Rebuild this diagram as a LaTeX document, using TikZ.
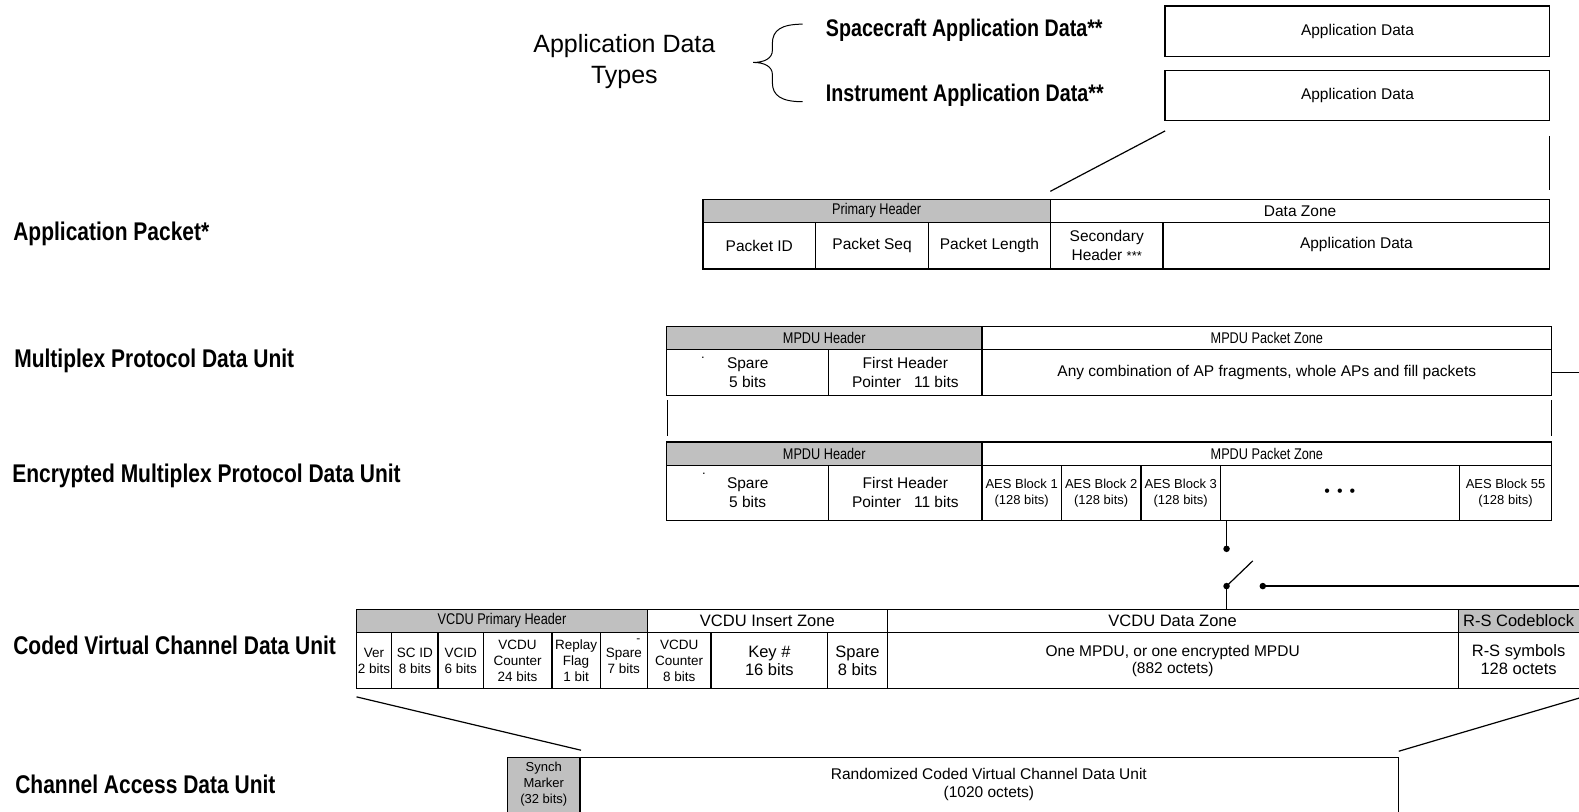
\documentclass[tikz,border=0pt]{standalone}
\usepackage{fontspec}
\setmainfont{Liberation Sans}
\newfontfamily\narrowfont[FakeStretch=0.82]{Liberation Sans}
\definecolor{hdrgray}{RGB}{192,192,192}
\newcommand\fs[2]{\fontsize{#1}{#2}\selectfont}
\newcommand\cell[7]{\node[cellbox,#6,minimum width={(#4-#2)*1.00702pt},minimum height={(#5-#3)*1.00702pt}] (#1) at ({(#2+#4)/2},{(#3+#5)/2}) {#7};}
\tikzset{
  cellbox/.style={draw,line width=1.3pt,inner sep=0pt,align=center,font=\fs{15.5}{19}},
  hdr/.style={fill=hdrgray},
  narrow/.style={font=\narrowfont\fs{15.5}{19}},
  small/.style={font=\fs{13}{16}},
  tinyt/.style={font=\fs{13.5}{16}},
  mid/.style={font=\fs{16.5}{18}},
  biglabel/.style={anchor=west,inner sep=0pt,font=\narrowfont\bfseries\fs{25.6}{30}},
  toplabel/.style={anchor=west,inner sep=0pt,font=\narrowfont\bfseries\fs{24}{28}},
  txt/.style={inner sep=0pt,align=center},
  conn/.style={line width=1.2pt},
  dotnode/.style={circle,fill=black,inner sep=0pt,minimum size=6.5pt}
}
\begin{document}
\begin{tikzpicture}[x=1.00702pt,y=-1.00702pt]
\clip (0,0) rectangle (1568,806.34);
\fill[white] (0,0) rectangle (1568,806.34);

% left labels
\node[biglabel] (lblap) at (13,232) {Application Packet*};
\node[biglabel] (lblmpdu) at (14,358) {Multiplex Protocol Data Unit};
\node[biglabel] (lblempdu) at (12,473) {Encrypted Multiplex Protocol Data Unit};
\node[biglabel] (lblcvcdu) at (13,641) {Coded Virtual Channel Data Unit};
\node[biglabel] (lblcadu) at (15,779) {Channel Access Data Unit};

% application data types
\node[txt,font=\fs{25}{31}] (adtypes) at (620,61) {Application Data\\Types};
\draw[line width=1pt] (797,24) .. controls (776,24) and (767,30) .. (767,43) -- (767,50)
  .. controls (767,58) and (759,62) .. (748,62)
  .. controls (759,62) and (767,66) .. (767,74) -- (767,82)
  .. controls (767,95) and (776,101) .. (797,101);
\node[toplabel] (sclbl) at (820,30) {Spacecraft Application Data**};
\node[toplabel] (inlbl) at (820,95) {Instrument Application Data**};
\cell{ad1}{1157}{6}{1539}{56}{}{Application Data}
\cell{ad2}{1157}{70}{1539}{120}{}{Application Data}

\coordinate (ex1a) at (1157,130);
\coordinate (ex1b) at (1043,190);
\coordinate (ex2a) at (1539,135);
\coordinate (ex2b) at (1539,189);
\draw[conn] (ex1a) -- (ex1b);
\draw[conn] (ex2a) -- (ex2b);

% application packet
\cell{ph}{698}{198}{1043}{221}{hdr,narrow}{Primary Header}
\cell{dz}{1043}{198}{1539}{221}{}{Data Zone}
\cell{pid}{698}{221}{810}{267}{}{Packet ID}
\cell{pseq}{810}{221}{922}{267}{}{Packet Seq}
\cell{plen}{922}{221}{1043}{267}{}{Packet Length}
\cell{sech}{1043}{221}{1155}{267}{}{Secondary\\Header {\fs{13}{19}***}}
\cell{apd}{1155}{221}{1539}{267}{}{\raisebox{5pt}{Application Data}}

% MPDU
\cell{mh}{662}{324}{975}{347}{hdr,narrow}{MPDU Header}
\cell{mpz}{975}{324}{1541}{347}{narrow}{MPDU Packet Zone}
\cell{msp}{662}{347}{823}{393}{}{Spare\\5 bits}
\cell{mfhp}{823}{347}{975}{393}{}{First Header\\Pointer\ \ \ 11 bits}
\cell{many}{975}{347}{1541}{393}{}{Any combination of AP fragments, whole APs and fill packets}
\node[txt,font=\fs{13}{14}] (mdot) at (698,355) {.};
\coordinate (mout) at (1579,370);
\draw[conn] (many.east) -- (mout);
\coordinate (vl1a) at (663,397);
\coordinate (vl1b) at (663,433);
\coordinate (vl2a) at (1541,397);
\coordinate (vl2b) at (1541,433);
\draw[conn] (vl1a) -- (vl1b);
\draw[conn] (vl2a) -- (vl2b);

% encrypted MPDU
\cell{eh}{662}{439}{975}{462}{hdr,narrow}{MPDU Header}
\cell{epz}{975}{439}{1541}{462}{narrow}{MPDU Packet Zone}
\cell{esp}{662}{462}{823}{517}{}{Spare\\5 bits}
\cell{efhp}{823}{462}{975}{517}{}{First Header\\Pointer\ \ \ 11 bits}
\cell{aes1}{975}{462}{1054}{517}{small}{AES Block 1\\(128 bits)}
\cell{aes2}{1054}{462}{1133}{517}{small}{AES Block 2\\(128 bits)}
\cell{aes3}{1133}{462}{1212}{517}{small}{AES Block 3\\(128 bits)}
\cell{edots}{1212}{462}{1449}{517}{font=\fs{16}{19}}{•\hspace{7pt}•\hspace{7pt}•}
\cell{aes55}{1449}{462}{1541}{517}{small}{AES Block 55\\(128 bits)}
\node[txt,font=\fs{13}{14}] (edot) at (699,470) {.};

% switch
\coordinate (sw0) at (1218,517);
\node[dotnode] (swa) at (1218,545) {};
\node[dotnode] (swb) at (1218,582) {};
\node[dotnode] (swc) at (1254,582) {};
\coordinate (swt) at (1244,557);
\coordinate (swd) at (1218,605);
\coordinate (swr) at (1579,582);
\draw[conn] (sw0) -- (swa.center);
\draw[conn] (swb.center) -- (swt);
\draw[conn] (swb.center) -- (swd);
\draw[conn] (swc.center) -- (swr);

% CVCDU
\cell{vph}{354}{605}{643}{628}{hdr,narrow}{VCDU Primary Header}
\cell{viz}{643}{605}{881}{628}{mid}{VCDU Insert Zone}
\cell{vdz}{881}{605}{1448}{628}{mid}{VCDU Data Zone}
\cell{vrs}{1448}{605}{1600}{628}{hdr}{}
\node[txt,font=\fs{16.5}{18}] (vrslbl) at (1508,616.5) {R-S Codeblock};
\cell{vver}{354}{628}{389}{684}{tinyt}{Ver\\2 bits}
\cell{vsc}{389}{628}{435}{684}{tinyt}{SC ID\\8 bits}
\cell{vvcid}{435}{628}{480}{684}{tinyt}{VCID\\6 bits}
\cell{vcnt}{480}{628}{548}{684}{tinyt}{VCDU\\Counter\\24 bits}
\cell{vrep}{548}{628}{596}{684}{tinyt}{Replay\\Flag\\1 bit}
\cell{vspare}{596}{628}{643}{684}{tinyt}{Spare\\7 bits}
\node[txt,font=\fs{12}{12}] (vsdash) at (634,636) {-};
\cell{vcnt2}{643}{628}{706}{684}{tinyt}{VCDU\\Counter\\8 bits}
\cell{vkey}{706}{628}{822}{684}{mid}{Key \#\\16 bits}
\cell{vsp8}{822}{628}{881}{684}{mid}{Spare\\8 bits}
\cell{vmpdu}{881}{628}{1448}{684}{font=\fs{15.5}{17}}{One MPDU, or one encrypted MPDU\\(882 octets)}
\cell{vrss}{1448}{628}{1600}{684}{}{}
\node[txt,font=\fs{16.5}{18}] (vrsslbl) at (1508,655) {R-S symbols\\128 octets};

% expansion lines
\coordinate (cl1a) at (354,692);
\coordinate (cl1b) at (577,745);
\coordinate (cl2a) at (1389,746);
\coordinate (cl2b) at (1579,690);
\draw[conn] (cl1a) -- (cl1b);
\draw[conn] (cl2a) -- (cl2b);

% CADU
\cell{sync}{504}{752}{576}{840}{hdr}{}
\cell{rcvcdu}{576}{752}{1389}{840}{}{}
\node[txt,font=\fs{13}{16}] (synclbl) at (540,779) {Synch\\Marker\\(32 bits)};
\node[txt,font=\fs{15.5}{18}] (rcvlbl) at (982,779) {Randomized Coded Virtual Channel Data Unit\\(1020 octets)};
\end{tikzpicture}
\end{document}
